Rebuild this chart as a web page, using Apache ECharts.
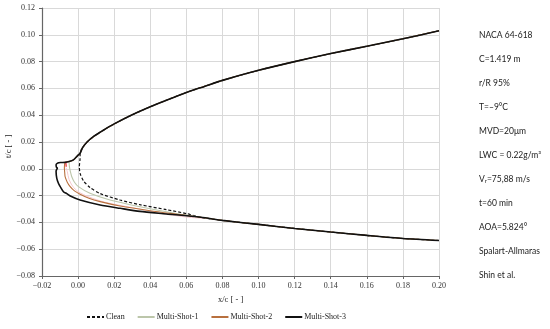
<!DOCTYPE html>
<html><head><meta charset="utf-8">
<script src="https://cdn.jsdelivr.net/npm/echarts@6/dist/echarts.min.js"></script>
<style>html,body{margin:0;padding:0;background:#fff}#c{width:550px;height:329px}</style>
</head><body><div id="c"></div>
<script>
// Upper surface (shared), from trailing side to ice junction
const upperX = [0.20, 0.18, 0.16, 0.14, 0.12, 0.10, 0.08, 0.07, 0.06, 0.05, 0.04, 0.03, 0.02, 0.014, 0.009, 0.005, 0.0025, 0.0011];
const upperY = [0.103, 0.097, 0.0915, 0.086, 0.080, 0.0735, 0.066, 0.0615, 0.057, 0.0518, 0.0463, 0.0403, 0.0335, 0.0288, 0.0245, 0.0200, 0.0158, 0.0116];
// Ice horn top (shared by multi-shot shapes)
const hornX = [-0.0005, -0.0026, -0.0050, -0.0072];
const hornY = [0.0095, 0.0066, 0.0054, 0.0048];
// Lower surface aft (shared)
const lowerX = [0.068, 0.08, 0.10, 0.12, 0.14, 0.16, 0.18, 0.20];
const lowerY = [-0.0362, -0.0385, -0.0415, -0.0445, -0.0472, -0.0497, -0.052, -0.0535];
// Leading-edge portions
const cleanX = [0.0011, 0.0011, 0.0007, 0.0011, 0.0030, 0.0066, 0.0122, 0.0233, 0.0343, 0.049, 0.0602];
const cleanY = [0.0116, 0.0078, 0.0016, -0.0034, -0.0090, -0.0140, -0.0185, -0.0233, -0.0268, -0.0305, -0.0335];
const ms1X = [-0.0048, -0.0048, -0.0043, -0.0035, -0.0020, 0.0002, 0.0066, 0.0177, 0.0343, 0.0528];
const ms1Y = [0.0054, 0.0016, -0.0020, -0.0059, -0.0100, -0.0133, -0.0183, -0.0233, -0.0283, -0.0330];
const ms2X = [-0.0075, -0.0076, -0.0074, -0.0072, -0.0060, -0.0044, -0.0020, 0.0011, 0.0060, 0.0122, 0.0233, 0.0399, 0.0565];
const ms2Y = [0.0030, 0.0004, -0.0030, -0.0059, -0.0100, -0.0133, -0.0165, -0.0190, -0.0220, -0.0245, -0.0278, -0.0313, -0.0342];
const ms3X = [-0.0095, -0.0112, -0.0122, -0.0120, -0.0115, -0.0120, -0.0122, -0.0118, -0.0109, -0.0099, -0.0081, -0.0063, -0.0040, 0.0011, 0.0122, 0.0233, 0.0343, 0.049];
const ms3Y = [0.0047, 0.0044, 0.0030, 0.0012, 0.0004, -0.0008, -0.0021, -0.0071, -0.0108, -0.0133, -0.0171, -0.0185, -0.0205, -0.0233, -0.0270, -0.0295, -0.0318, -0.0337];
// Faint experimental traces
const expX = [-0.0068, -0.0060, -0.0050, -0.0030, 0.0000, 0.0060, 0.0150, 0.0300, 0.0450, 0.0600, 0.0700];
const expY = [0.0010, -0.0020, -0.0080, -0.0130, -0.0170, -0.0210, -0.0250, -0.0290, -0.0330, -0.0360, -0.0370];
const redX = [-0.0068, -0.0066];
const redY = [0.0052, 0.0015];

const seriesNames = ['Clean', 'Multi-Shot-1', 'Multi-Shot-2', 'Multi-Shot-3'];
const xTicks = [-0.02, 0.20, 0.02];
const yTicks = [-0.08, 0.12, 0.02];
const notes = ['NACA 64-618', 'C=1.419 m', 'r/R 95%', 'T=\u20139°C', 'MVD=20μm', 'LWC = 0.22g/m³', 'Vr=75,88 m/s', 't=60 min', 'AOA=5.824°', 'Spalart-Allmaras', 'Shin et al.'];

function pts(xs, ys) { return xs.map((x, i) => [x, ys[i]]); }
const up = pts(upperX, upperY), horn = pts(hornX, hornY), low = pts(lowerX, lowerY);
const cleanData = up.concat(pts(cleanX, cleanY), low);
const ms1Data = up.concat(horn.slice(0, 3), pts(ms1X, ms1Y), low);
const ms2Data = up.concat(horn, pts(ms2X, ms2Y), low);
const ms3Data = up.concat(horn, pts(ms3X, ms3Y), low);

const serif = 'Liberation Serif';
const fmt = v => { const s = Math.abs(v).toFixed(2); return (v < -1e-9 ? '\u2212' : '') + s; };

function lineSeries(name, data, color, width, type, z) {
  return { name, type: 'line', data, showSymbol: false, symbol: 'none', smooth: 0.25, z,
    lineStyle: { color, width, type }, itemStyle: { color }, animation: false };
}

const graphics = notes.map((t, i) => {
  if (t.startsWith('Vr=')) {
    return { type: 'text', left: 479, top: 31 + i * 24, style: {
      text: '{a|V}{s|r}{a|' + t.slice(2) + '}',
      rich: { a: { fontFamily: 'Lato', fontSize: 8.5, fill: '#222' }, s: { fontFamily: 'Lato', fontSize: 6, fill: '#222', padding: [4, 0, 0, 0] } } } };
  }
  return { type: 'text', left: 479, top: 31 + i * 24, style: { text: t, fontFamily: 'Lato', fontSize: 8.5, fill: '#222' } };
});
graphics.push({ type: 'text', left: 218, top: 295, style: { text: 'x/c [ - ]', fontFamily: serif, fontSize: 8.5, fill: '#222' } });
graphics.push({ type: 'text', rotation: Math.PI / 2, x: 4, y: 158, style: { text: 't/c [ - ]', fontFamily: serif, fontSize: 8.5, fill: '#222' } });

const chart = echarts.init(document.getElementById('c'), null, { renderer: 'canvas' });
chart.setOption({
  animation: false,
  grid: { left: 42, right: 111, top: 8, bottom: 53, containLabel: false },
  xAxis: { type: 'value', min: xTicks[0], max: xTicks[1], interval: xTicks[2],
    axisLine: { onZero: false, lineStyle: { color: '#666', width: 1.2 } },
    axisTick: { show: true, length: 3, lineStyle: { color: '#666' } },
    axisLabel: { formatter: fmt, fontFamily: serif, fontSize: 8, color: '#333', margin: 6 },
    splitLine: { show: true, lineStyle: { color: '#d9d9d9', width: 1 } } },
  yAxis: { type: 'value', min: yTicks[0], max: yTicks[1], interval: yTicks[2],
    axisLine: { show: true, onZero: false, lineStyle: { color: '#666', width: 1.2 } },
    axisTick: { show: true, length: 3, lineStyle: { color: '#666' } },
    axisLabel: { formatter: fmt, fontFamily: serif, fontSize: 8, color: '#333', margin: 7 },
    splitLine: { show: true, lineStyle: { color: '#d9d9d9', width: 1 } } },
  legend: { data: seriesNames, bottom: 3, left: 81, itemWidth: 17, itemHeight: 8, itemGap: 12,
    itemStyle: { opacity: 0 },
    textStyle: { fontFamily: serif, fontSize: 8, color: '#222', padding: [0, 0, 0, -3] } },
  graphic: graphics,
  series: [
    { name: 'exp', type: 'line', data: pts(expX, expY), showSymbol: false, symbol: 'none', smooth: 0.3, z: 1,
      lineStyle: { color: '#f6c8ce', width: 1 }, animation: false, silent: true },
    lineSeries('Clean', cleanData, '#111', 1.2, [3, 2], 2),
    lineSeries('Multi-Shot-1', ms1Data, '#bcc6aa', 1.1, 'solid', 3),
    lineSeries('Multi-Shot-2', ms2Data, '#b8703e', 1.1, 'solid', 4),
    { name: 'red', type: 'line', data: pts(redX, redY), showSymbol: false, symbol: 'none', z: 5,
      lineStyle: { color: '#e8202a', width: 1.2 }, animation: false, silent: true },
    lineSeries('Multi-Shot-3', ms3Data, '#111', 1.6, 'solid', 6)
  ]
});
</script></body></html>
